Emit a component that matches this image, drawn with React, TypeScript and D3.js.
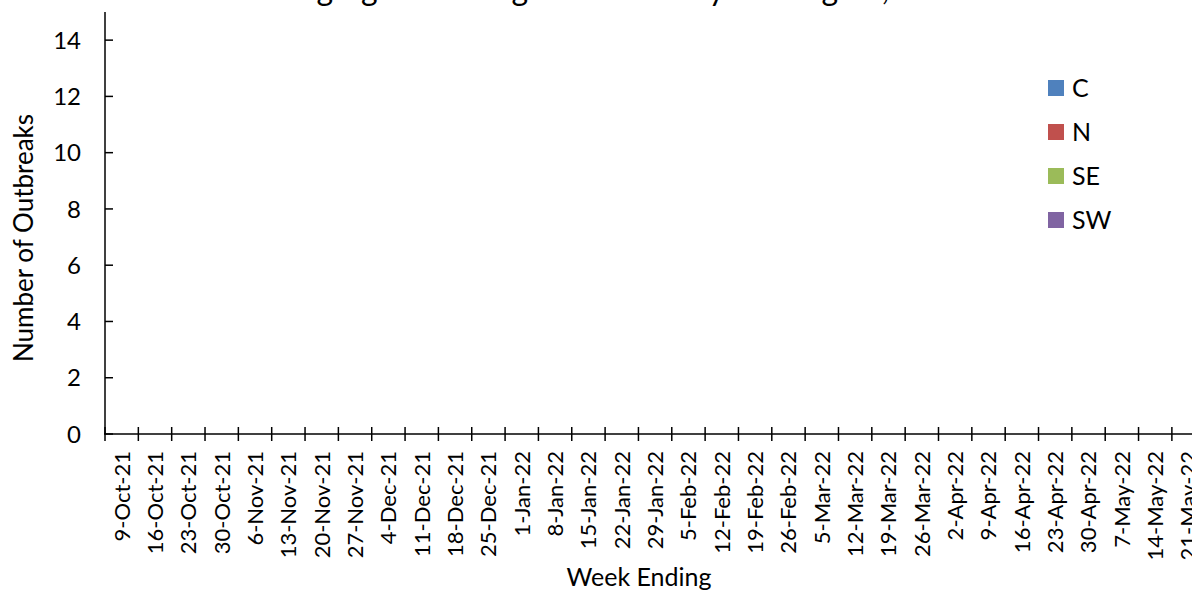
import React from "react";
import * as d3 from "d3";

const weeks: string[] = [
  "9-Oct-21", "16-Oct-21", "23-Oct-21", "30-Oct-21",
  "6-Nov-21", "13-Nov-21", "20-Nov-21", "27-Nov-21",
  "4-Dec-21", "11-Dec-21", "18-Dec-21", "25-Dec-21",
  "1-Jan-22", "8-Jan-22", "15-Jan-22", "22-Jan-22", "29-Jan-22",
  "5-Feb-22", "12-Feb-22", "19-Feb-22", "26-Feb-22",
  "5-Mar-22", "12-Mar-22", "19-Mar-22", "26-Mar-22",
  "2-Apr-22", "9-Apr-22", "16-Apr-22", "23-Apr-22", "30-Apr-22",
  "7-May-22", "14-May-22", "21-May-22",
];

const seriesNames: string[] = ["C", "N", "SE", "SW"];
const seriesColors: string[] = ["#4F81BD", "#C0504D", "#9BBB59", "#8064A2"];

const valuesC: number[] = [0,0,0,0,0,0,0,0,0,0,0,0,0,0,0,0,0,0,0,0,0,0,0,0,0,0,0,0,0,0,0,0,0];
const valuesN: number[] = [0,0,0,0,0,0,0,0,0,0,0,0,0,0,0,0,0,0,0,0,0,0,0,0,0,0,0,0,0,0,0,0,0];
const valuesSE: number[] = [0,0,0,0,0,0,0,0,0,0,0,0,0,0,0,0,0,0,0,0,0,0,0,0,0,0,0,0,0,0,0,0,0];
const valuesSW: number[] = [0,0,0,0,0,0,0,0,0,0,0,0,0,0,0,0,0,0,0,0,0,0,0,0,0,0,0,0,0,0,0,0,0];

const yTicks: number[] = [0, 2, 4, 6, 8, 10, 12, 14];

const title = "Congregate Setting Outbreaks by HA Region, 2021-22";

export default function App() {
  const W = 1192;
  const H = 592;
  const x0 = 105;
  const bandW = 33.34;
  const xScale = d3
    .scaleBand<string>()
    .domain(weeks)
    .range([x0, x0 + bandW * weeks.length])
    .paddingInner(0.5)
    .paddingOuter(0.25);
  const yScale = d3.scaleLinear().domain([0, 15]).range([434, 12]);

  const table = weeks.map((w, i) => ({
    week: w,
    C: valuesC[i],
    N: valuesN[i],
    SE: valuesSE[i],
    SW: valuesSW[i],
  }));
  const stacked = d3.stack<any>().keys(seriesNames)(table);

  const font = "Lato, 'Open Sans', sans-serif";
  const step = xScale.step();
  const start = x0;

  return (
    <svg
      width={W}
      height={H}
      style={{ position: "absolute", left: 0, top: 0, background: "#fff" }}
      fontFamily={font}
    >
      <rect x={0} y={0} width={W} height={H} fill="#fff" />
      <text x={640} y={0} textAnchor="middle" fontSize={32} fill="#000">
        {title}
      </text>

      {/* bars */}
      {stacked.map((layer, si) => (
        <g key={seriesNames[si]} fill={seriesColors[si]}>
          {layer.map((d, i) => (
            <rect
              key={i}
              x={xScale(weeks[i])}
              y={yScale(d[1])}
              width={xScale.bandwidth()}
              height={Math.max(0, yScale(d[0]) - yScale(d[1]))}
            />
          ))}
        </g>
      ))}

      {/* y axis */}
      <line x1={x0} x2={x0} y1={yScale(15)} y2={yScale(0)} stroke="#000" strokeWidth={1.5} />
      {yTicks.map((t) => (
        <g key={t}>
          <line x1={x0} x2={x0 + 8} y1={yScale(t)} y2={yScale(t)} stroke="#000" strokeWidth={1.5} />
          <text x={81} y={yScale(t)} dy="0.36em" textAnchor="end" fontSize={24} fill="#000">
            {t}
          </text>
        </g>
      ))}
      <text
        transform={`translate(24,${238}) rotate(-90)`}
        textAnchor="middle"
        dy="0.36em"
        fontSize={26}
        fill="#000"
      >
        Number of Outbreaks
      </text>

      {/* x axis */}
      <line x1={x0 - 1} x2={W} y1={yScale(0)} y2={yScale(0)} stroke="#000" strokeWidth={1.5} />
      {d3.range(weeks.length + 1).map((i) => (
        <line
          key={i}
          x1={start + i * step}
          x2={start + i * step}
          y1={yScale(0) - 7}
          y2={yScale(0) + 7}
          stroke="#000"
          strokeWidth={1.5}
        />
      ))}
      {weeks.map((w) => (
        <text
          key={w}
          transform={`translate(${(xScale(w) as number) + xScale.bandwidth() / 2},${451}) rotate(-90)`}
          textAnchor="end"
          dy="0.36em"
          fontSize={22}
          fill="#000"
        >
          {w}
        </text>
      ))}
      <text x={639} y={586} textAnchor="middle" fontSize={25} fill="#000">
        Week Ending
      </text>

      {/* legend */}
      {seriesNames.map((s, i) => (
        <g key={s} transform={`translate(1048,${88 + i * 44})`}>
          <rect x={0} y={-8} width={16} height={16} fill={seriesColors[i]} />
          <text x={24} y={0} dy="0.36em" fontSize={25} fill="#000">
            {s}
          </text>
        </g>
      ))}
    </svg>
  );
}
